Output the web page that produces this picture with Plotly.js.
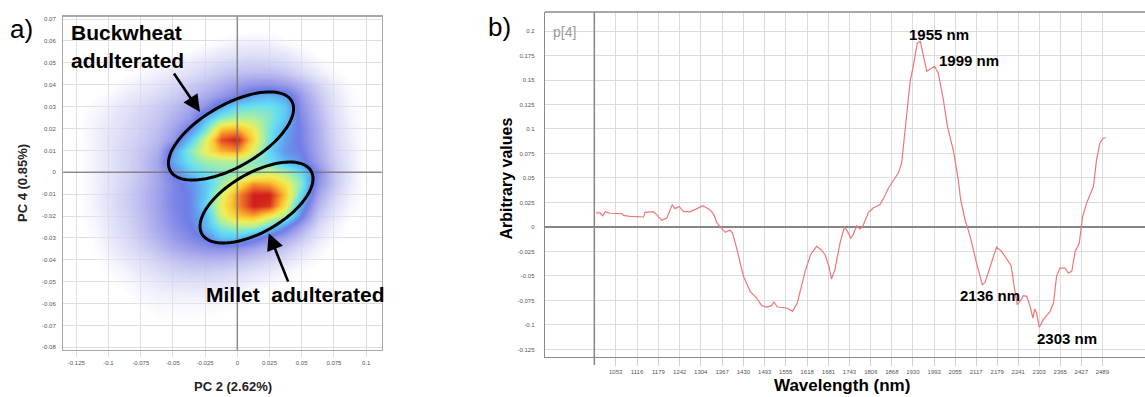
<!DOCTYPE html>
<html><head><meta charset="utf-8">
<script src="https://cdn.plot.ly/plotly-3.0.1.min.js"></script>
<style>html,body{margin:0;padding:0;background:#fff;overflow:hidden}#chart{width:1145px;height:397px}</style>
</head><body><div id="chart"></div>
<script>
// ---------- Panel b: loading spectrum p[4] ----------
const wavelengthNm = [995,1007,1015,1022,1036,1071,1076,1095,1115,1135,1140,1154,1164,1174,1189,1204,1220,1228,1240,1253,1272,1287,1310,1331,1343,1351,1366,1376,1390,1398,1410,1430,1450,1469,1484,1499,1513,1520,1530,1558,1575,1589,1612,1628,1646,1660,1671,1682,1690,1700,1715,1728,1737,1747,1754,1764,1774,1782,1799,1813,1833,1845,1858,1887,1897,1922,1931,1943,1952,1961,1971,1979,1994,2005,2020,2032,2050,2064,2071,2084,2099,2118,2135,2143,2163,2177,2192,2207,2220,2229,2238,2246,2256,2266,2276,2284,2290,2295,2303,2315,2335,2345,2354,2364,2379,2389,2399,2409,2421,2431,2443,2463,2472,2482,2492,2500];
const loadingP4 = [0.0143,0.0143,0.0115,0.0156,0.0140,0.0136,0.0119,0.0108,0.0105,0.0102,0.0149,0.0156,0.0156,0.0126,0.0068,0.0092,0.0228,0.0187,0.0210,0.0160,0.0155,0.0177,0.0217,0.0177,0.0126,0.0047,-0.0021,-0.0055,-0.0034,-0.0062,-0.0215,-0.0504,-0.0657,-0.0725,-0.0803,-0.0817,-0.0803,-0.0766,-0.0817,-0.0827,-0.0861,-0.0776,-0.0453,-0.0283,-0.0198,-0.0235,-0.0283,-0.0400,-0.0531,-0.0436,-0.0164,0.0000,-0.0045,-0.0113,-0.0079,0.0013,-0.0021,0.0006,0.0149,0.0194,0.0228,0.0300,0.0398,0.0550,0.0653,0.1486,0.1640,0.1877,0.1894,0.1758,0.1588,0.1606,0.1640,0.1570,0.1299,0.1027,0.0771,0.0483,0.0278,0.0074,-0.0096,-0.0368,-0.0589,-0.0565,-0.0351,-0.0204,-0.0249,-0.0334,-0.0395,-0.0606,-0.0793,-0.0759,-0.0701,-0.0708,-0.0810,-0.0929,-0.0837,-0.0878,-0.1024,-0.0946,-0.0861,-0.0776,-0.0504,-0.0419,-0.0419,-0.0470,-0.0453,-0.0249,-0.0164,0.0108,0.0245,0.0414,0.0687,0.0857,0.0908,0.0908];
const wlTickVals = [1053,1116,1179,1242,1304,1367,1430,1493,1555,1618,1681,1743,1806,1868,1930,1993,2055,2117,2179,2241,2303,2365,2427,2489];
const p4TickVals = [0.2,0.175,0.15,0.125,0.1,0.075,0.05,0.025,0,-0.025,-0.05,-0.075,-0.1,-0.125];
const p4TickText = ['0.2','0.175','0.15','0.125','0.1','0.075','0.05','0.025','0','-0.025','-0.05','-0.075','-0.1','-0.125'];
const peakLabels = ['1955 nm','1999 nm','2136 nm','2303 nm'];

// ---------- Panel a: score density (PC2 vs PC4) ----------
const scoreGridPC2 = [-0.125,-0.1125,-0.1,-0.0875,-0.075,-0.0625,-0.05,-0.0375,-0.025,-0.0125,0,0.0125,0.025,0.0375,0.05,0.0625,0.075,0.0875,0.1];
const scoreGridPC4 = [0.065,0.06,0.055,0.05,0.045,0.04,0.035,0.03,0.025,0.02,0.015,0.01,0.005,0,-0.005,-0.01,-0.015,-0.02,-0.025,-0.03,-0.035,-0.04,-0.045,-0.05,-0.055,-0.06,-0.065,-0.07,-0.075];
const scoreDensity = [
 [0,0,0,0,0,0,0,0,0,0,0,0,0,0,0,0,0,0,0],
 [0,0,0,0,0,0,0,0,0,0.2,0.5,0.6,0.5,0.2,0,0,0,0,0],
 [0,0,0,0,0,0,0,0.2,0.5,0.8,1,1.1,1,0.8,0.4,0,0,0,0],
 [0,0,0,0,0,0.2,0.5,0.8,1.1,1.4,1.6,1.7,1.6,1.4,0.9,0.4,0,0,0],
 [0,0,0,0,0.3,0.6,0.9,1.2,1.6,2,2.3,2.4,2.4,2.1,1.5,0.8,0.3,0,0],
 [0,0,0,0.4,0.7,1,1.4,1.8,2.2,2.7,3.2,3.5,3.6,3.3,2.6,1.6,0.7,0.2,0],
 [0,0,0.3,0.7,1,1.4,1.8,2.3,2.8,3.4,4.1,5,5.3,4.8,3.3,2,1,0.3,0],
 [0,0.3,0.6,1,1.4,1.8,2.3,2.9,3.6,5,6,6.2,6.2,5.6,3.6,2.3,1.1,0.4,0],
 [0,0.4,0.8,1.2,1.6,2,2.6,3.3,5.2,6.5,7,7,6.5,5.5,3.8,2.5,1.3,0.5,0],
 [0,0.5,0.9,1.3,1.7,2.2,3,4.2,6.2,8.5,8.7,7.8,6.3,5,4,2.7,1.4,0.6,0],
 [0,0.5,1,1.4,1.8,2.4,3.4,5.5,7.5,9.6,10,8.2,6.2,4.8,4,2.8,1.5,0.7,0],
 [0,0.5,1,1.5,2,2.7,4.8,6.5,7.8,8.7,9,7.6,5.8,4.6,4.2,2.9,1.6,0.8,0],
 [0,0.5,1,1.5,2.1,3,5,6.2,6.8,7,7,6.6,6.2,5.3,4.6,3.1,1.8,0.8,0],
 [0,0.5,1,1.5,2.1,3,4.3,5.5,6.2,6.4,6.6,7,7.5,7,6,3.8,2,0.9,0],
 [0,0.5,1,1.6,2.2,3,3.9,4.5,5.5,6.8,8,9,8.8,8,6.5,3.5,2,0.8,0],
 [0,0.5,1.1,1.7,2.3,3.1,3.9,4.3,5.6,7.5,9,10,10,8.5,6,3,1.6,0.6,0],
 [0,0.5,1.1,1.7,2.3,3.1,3.9,4.3,5.8,7.8,9,10,9.8,8,5,2.5,1.2,0.4,0],
 [0,0.4,1,1.6,2.2,3,3.8,4.3,5.3,7.5,8.5,8.8,8,7,4.3,2,0.9,0.2,0],
 [0,0.3,0.9,1.5,2.1,2.9,3.6,4.1,5.2,6.5,7,7,6,4.5,3,1.4,0.5,0,0],
 [0,0.2,0.8,1.3,1.9,2.6,3.3,3.8,4.3,5.5,5.5,4.6,3.8,3,2,0.9,0.3,0,0],
 [0,0.1,0.6,1.1,1.6,2.2,2.8,3.2,3.5,3.6,3.5,3,2.5,2,1.2,0.5,0,0,0],
 [0,0,0.4,0.8,1.2,1.7,2.1,2.4,2.5,2.5,2.3,2,1.6,1.2,0.6,0.2,0,0,0],
 [0,0,0.2,0.5,0.9,1.3,1.6,1.8,1.8,1.7,1.5,1.2,0.9,0.5,0.2,0,0,0,0],
 [0,0,0,0.3,0.6,0.9,1.1,1.2,1.2,1.1,0.9,0.6,0.4,0.2,0,0,0,0,0],
 [0,0,0,0.1,0.4,0.6,0.7,0.7,0.7,0.6,0.4,0.2,0,0,0,0,0,0,0],
 [0,0,0,0,0.2,0.4,0.4,0.4,0.4,0.3,0.2,0,0,0,0,0,0,0,0],
 [0,0,0,0,0,0.2,0.2,0.2,0.2,0.1,0,0,0,0,0,0,0,0,0],
 [0,0,0,0,0,0,0,0,0,0,0,0,0,0,0,0,0,0,0],
 [0,0,0,0,0,0,0,0,0,0,0,0,0,0,0,0,0,0,0]
];
const pc2TickVals = [-0.125,-0.1,-0.075,-0.05,-0.025,0,0.025,0.05,0.075,0.1];
const pc2TickText = ['-0.125','-0.1','-0.075','-0.05','-0.025','0','0.025','0.05','0.075','0.1'];
const pc4TickVals = [0.07,0.06,0.05,0.04,0.03,0.02,0.01,0,-0.01,-0.02,-0.03,-0.04,-0.05,-0.06,-0.07,-0.08];
const pc4TickText = ['0.07','0.06','0.05','0.04','0.03','0.02','0.01','0','-0.01','-0.02','-0.03','-0.04','-0.05','-0.06','-0.07','-0.08'];

// ---------- layout geometry ----------
const W = 1145, H = 397;
const A = {l:63.3, r:381.7, t:16.7, b:350, xr:[-0.1351,0.1121], yr:[-0.0812,0.0711]};
const B = {l:545, r:1145, t:12, b:357, xr:[844.5,2615], yr:[-0.1327,0.2194]};
const xsA = (A.r-A.l)/(A.xr[1]-A.xr[0]);
const ysA = (A.b-A.t)/(A.yr[1]-A.yr[0]);

function ellipsePath(cx, cy, aPx, bPx, angDeg){
  const th = angDeg*Math.PI/180; let d='';
  for (let i=0;i<=90;i++){
    const t = i/90*2*Math.PI;
    const dx = aPx*Math.cos(t)*Math.cos(th) + bPx*Math.sin(t)*Math.sin(th);
    const dy = -aPx*Math.cos(t)*Math.sin(th) + bPx*Math.sin(t)*Math.cos(th);
    d += (i?'L':'M') + (cx + dx/xsA).toFixed(6) + ',' + (cy - dy/ysA).toFixed(6);
  }
  return d + 'Z';
}

const FONT = 'Liberation Sans, Arial, sans-serif';
const tickFont = {family:FONT, size:6, color:'#555'};

const traces = [
  {type:'heatmap', x:scoreGridPC2, y:scoreGridPC4, z:scoreDensity, zmin:0, zmax:10, zsmooth:'best',
   colorscale:[[0,'rgba(255,255,255,0)'],[0.03,'rgba(236,236,252,0.35)'],[0.08,'rgba(222,222,248,0.65)'],[0.15,'rgba(205,205,243,0.82)'],[0.25,'rgba(176,176,237,0.93)'],[0.35,'rgb(145,148,232)'],[0.42,'rgb(112,125,230)'],[0.5,'rgb(95,170,240)'],[0.6,'rgb(100,222,245)'],[0.7,'rgb(175,240,155)'],[0.78,'rgb(240,238,90)'],[0.85,'rgb(250,200,50)'],[0.92,'rgb(242,120,40)'],[1,'rgb(210,30,28)']],
   showscale:false, hoverinfo:'skip', xaxis:'x', yaxis:'y'},
  {type:'scatter', mode:'lines', x:wavelengthNm, y:loadingP4, xaxis:'x2', yaxis:'y2',
   line:{color:'rgb(240,118,118)', width:1.2}, hoverinfo:'skip'}
];

const layout = {
  width:W, height:H, margin:{l:0,r:0,t:0,b:0}, paper_bgcolor:'#fff', plot_bgcolor:'#fff', showlegend:false,
  font:{family:FONT, color:'#000'},
  xaxis:{domain:[A.l/W, A.r/W], range:A.xr, tickvals:pc2TickVals, ticktext:pc2TickText, tickfont:tickFont,
    showgrid:true, gridcolor:'#dedede', gridwidth:1, zeroline:false, showline:true, mirror:true, linecolor:'#a8a8a8', linewidth:1.3,
    ticks:'outside', ticklen:6, tickcolor:'#dedede', automargin:false, anchor:'y'},
  yaxis:{domain:[1-A.b/H, 1-A.t/H], range:A.yr, tickvals:pc4TickVals, ticktext:pc4TickText, tickfont:tickFont,
    showgrid:true, gridcolor:'#dedede', gridwidth:1, zeroline:false, showline:true, mirror:true, linecolor:'#a8a8a8', linewidth:1.3,
    ticks:'outside', ticklen:5, tickcolor:'rgba(0,0,0,0)', automargin:false, anchor:'x'},
  xaxis2:{domain:[B.l/W, B.r/W], range:B.xr, tickvals:wlTickVals, tickfont:tickFont,
    showgrid:true, gridcolor:'#dcdcdc', gridwidth:1, zeroline:false, showline:true, mirror:false, linecolor:'#8a8a8a', linewidth:1.3,
    ticks:'outside', ticklen:8, tickcolor:'#d0d0d0', automargin:false, anchor:'y2'},
  yaxis2:{domain:[1-B.b/H, 1-B.t/H], range:B.yr, tickvals:p4TickVals, ticktext:p4TickText, tickfont:tickFont,
    showgrid:true, gridcolor:'#dcdcdc', gridwidth:1, zeroline:true, zerolinecolor:'#858585', zerolinewidth:1.5,
    showline:true, mirror:false, linecolor:'#8a8a8a', linewidth:1.3,
    ticks:'outside', ticklen:8, tickcolor:'rgba(0,0,0,0)', automargin:false, anchor:'x2'},
  shapes:[
    {type:'line', xref:'x', yref:'paper', x0:0, x1:0, y0:1-A.b/H, y1:1-A.t/H, line:{color:'rgba(110,110,110,0.75)', width:1.5}, layer:'above'},
    {type:'line', xref:'paper', yref:'y', x0:A.l/W, x1:A.r/W, y0:0, y1:0, line:{color:'rgba(110,110,110,0.75)', width:1.5}, layer:'above'},
    {type:'path', xref:'x', yref:'y', path:ellipsePath(-0.0049, 0.0166, 70, 31, 30), line:{color:'#000', width:3}, layer:'above'},
    {type:'path', xref:'x', yref:'y', path:ellipsePath(0.0149, -0.0138, 63, 29.4, 30), line:{color:'#000', width:3}, layer:'above'},
    {type:'line', xref:'x2', yref:'paper', x0:990, x1:990, y0:1-365/H, y1:1-B.t/H, line:{color:'#858585', width:1.5}},
    {type:'line', xref:'paper', yref:'paper', x0:B.l/W, x1:1, y0:1-B.t/H, y1:1-B.t/H, line:{color:'#8a8a8a', width:1.3}}
  ],
  annotations:[
    {xref:'paper', yref:'paper', x:21.5/W, y:1-29/H, text:'a)', showarrow:false, font:{family:FONT, size:26, color:'#000'}, xanchor:'center', yanchor:'middle'},
    {xref:'paper', yref:'paper', x:499/W, y:1-27/H, text:'b)', showarrow:false, font:{family:FONT, size:26, color:'#000'}, xanchor:'center', yanchor:'middle'},
    {xref:'x', yref:'y', x:-0.0864, y:0.0641, text:'<b>Buckwheat</b>', showarrow:false, font:{family:FONT, size:21, color:'#000'}, xanchor:'center', yanchor:'middle'},
    {xref:'x', yref:'y', x:-0.0852, y:0.0509, text:'<b>adulterated</b>', showarrow:false, font:{family:FONT, size:21, color:'#000'}, xanchor:'center', yanchor:'middle'},
    {xref:'x', yref:'y', x:0.0448, y:-0.0559, text:'<b>Millet\u00a0 adulterated</b>', showarrow:false, font:{family:FONT, size:21, color:'#000'}, xanchor:'center', yanchor:'middle'},
    {xref:'x', yref:'y', x:-0.029, y:0.0276, ax:-27, ay:-40, text:'', showarrow:true, arrowhead:2, arrowsize:1.3, arrowwidth:2.6, arrowcolor:'#000'},
    {xref:'x', yref:'y', x:0.0244, y:-0.0278, ax:20, ay:50, text:'', showarrow:true, arrowhead:2, arrowsize:1.3, arrowwidth:2.6, arrowcolor:'#000'},
    {xref:'paper', yref:'paper', x:233/W, y:1-386/H, text:'<b>PC 2 (2.62%)</b>', showarrow:false, font:{family:FONT, size:13, color:'#222'}, xanchor:'center', yanchor:'middle'},
    {xref:'paper', yref:'paper', x:22/W, y:1-183/H, text:'<b>PC 4 (0.85%)</b>', textangle:-90, showarrow:false, font:{family:FONT, size:13, color:'#222'}, xanchor:'center', yanchor:'middle'},
    {xref:'paper', yref:'paper', x:505.5/W, y:1-179/H, text:'<b>Arbitrary values</b>', textangle:-90, showarrow:false, font:{family:FONT, size:16, color:'#000'}, xanchor:'center', yanchor:'middle'},
    {xref:'paper', yref:'paper', x:842/W, y:1-385.5/H, text:'<b>Wavelength (nm)</b>', showarrow:false, font:{family:FONT, size:17, color:'#000'}, xanchor:'center', yanchor:'middle'},
    {xref:'x2', yref:'y2', x:903.5, y:0.1988, text:'p[4]', showarrow:false, font:{family:FONT, size:14, color:'#9a9a9a'}, xanchor:'center', yanchor:'middle'},
    {xref:'x2', yref:'y2', x:2005.7, y:0.1962, text:'<b>'+peakLabels[0]+'</b>', showarrow:false, font:{family:FONT, size:15, color:'#000'}, xanchor:'center', yanchor:'middle'},
    {xref:'x2', yref:'y2', x:2095.7, y:0.1697, text:'<b>'+peakLabels[1]+'</b>', showarrow:false, font:{family:FONT, size:15, color:'#000'}, xanchor:'center', yanchor:'middle'},
    {xref:'x2', yref:'y2', x:2159, y:-0.0701, text:'<b>'+peakLabels[2]+'</b>', showarrow:false, font:{family:FONT, size:15, color:'#000'}, xanchor:'center', yanchor:'middle'},
    {xref:'x2', yref:'y2', x:2385, y:-0.1140, text:'<b>'+peakLabels[3]+'</b>', showarrow:false, font:{family:FONT, size:15, color:'#000'}, xanchor:'center', yanchor:'middle'}
  ]
};

Plotly.newPlot('chart', traces, layout, {staticPlot:true, displayModeBar:false});
</script>
</body></html>
